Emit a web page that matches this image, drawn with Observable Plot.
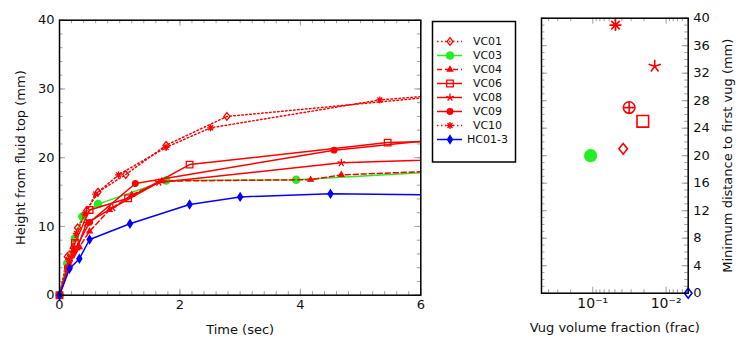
<!DOCTYPE html>
<html><head><meta charset="utf-8">
<script src="https://cdn.jsdelivr.net/npm/d3@7"></script>
<script src="https://cdn.jsdelivr.net/npm/@observablehq/plot@0.6"></script>
<style>
body{margin:0;background:#fff;}
#wrap{position:relative;width:747px;height:350px;overflow:hidden;background:#fff;}
#wrap svg{position:absolute;overflow:visible;}
</style></head><body><div id="wrap"></div>
<script>
// ---------------- data ----------------
const seriesNames = ["VC01","VC03","VC04","VC06","VC08","VC09","VC10","HC01-3"];

const t_VC01 = [0,0.13,0.3,0.45,0.64,1.1,1.77,2.78,7];
const h_VC01 = [0,5.6,9.8,12.3,15.0,17.55,21.8,26.0,29.5];
const t_VC03 = [0,0.128,0.255,0.38,0.64,1.77,3.93,7];
const h_VC03 = [0,4.65,8.3,11.45,13.25,16.7,16.8,18.3];
const t_VC04 = [0,0.17,0.33,0.5,0.83,1.2,1.7,4.17,4.68,7];
const h_VC04 = [0,4.3,7.0,9.3,12.4,14.6,16.6,16.8,17.5,18.3];
const t_VC06 = [0,0.255,0.5,1.14,2.16,5.45,7];
const h_VC06 = [0,7.6,12.4,14.1,19.0,22.2,22.5];
const t_VC08 = [0,0.15,0.3,0.45,0.885,1.65,4.68,7];
const h_VC08 = [0,4.2,7.0,10.5,12.7,16.4,19.25,19.9];
const t_VC09 = [0,0.13,0.25,0.5,1.26,4.56,7];
const h_VC09 = [0,4.0,6.5,10.6,16.25,21.1,23.3];
const t_VC10 = [0,0.15,0.28,0.42,0.6,0.98,1.77,2.51,5.32,7];
const h_VC10 = [0,5.2,9.0,11.8,14.7,17.5,21.5,24.35,28.4,29.6];
const t_HC013 = [0,0.166,0.33,0.5,1.17,2.16,3.0,4.5,7.5];
const h_HC013 = [0,3.85,5.3,8.1,10.4,13.2,14.3,14.75,14.5];

const vugNames = ["VC10","VC08","VC09","VC06","VC01","VC03","HC01-3"];
const vugFraction = [0.049,0.0143,0.0319,0.0208,0.0385,0.107,0.005];
const vugDistance = [39,33,27,25,21,20,0];

const timeTicks = [0,2,4,6];
const heightTicks = [0,10,20,30,40];
const distTicks = [0,4,8,12,16,20,24,28,32,36,40];
const fracTicks = [0.1,0.01];
const fracTickLabels = ["10\u207B\u00B9","10\u207B\u00B2"];

// ---------------- symbols ----------------
const rad = s => Math.sqrt(s/Math.PI);
const diamondSym = k => ({draw(c,s){const r=rad(s),w=r*k;c.moveTo(0,-r);c.lineTo(w,0);c.lineTo(0,r);c.lineTo(-w,0);c.closePath();}});
const squareSym = {draw(c,s){const r=rad(s);c.moveTo(-r,-r);c.lineTo(r,-r);c.lineTo(r,r);c.lineTo(-r,r);c.closePath();}};
const triSym = {draw(c,s){const r=rad(s);c.moveTo(0,-r);c.lineTo(r*0.866,r*0.5);c.lineTo(-r*0.866,r*0.5);c.closePath();}};
const starLines = {draw(c,s){const r=rad(s);for(let i=0;i<5;i++){const a=-Math.PI/2+i*2*Math.PI/5;c.moveTo(0,0);c.lineTo(r*Math.cos(a),r*Math.sin(a));}}};
const astLines = {draw(c,s){const r=rad(s);for(let i=0;i<4;i++){const a=i*Math.PI/4;c.moveTo(-r*Math.cos(a),-r*Math.sin(a));c.lineTo(r*Math.cos(a),r*Math.sin(a));}}};
const oplusSym = {draw(c,s){const r=rad(s);c.moveTo(r,0);c.arc(0,0,r,0,2*Math.PI);c.moveTo(-r,0);c.lineTo(r,0);c.moveTo(0,-r);c.lineTo(0,r);}};

const RED="#ff0000", GREEN="#22ee22", BLUE="#0000ff";
const style = {
  "VC01":  {t:t_VC01, h:h_VC01, color:RED, dash:"1.5,2.5", symbol:diamondSym(0.8), r:3.8, fill:"none"},
  "VC03":  {t:t_VC03, h:h_VC03, color:GREEN, dash:null, symbol:"circle", r:3.6, fill:GREEN},
  "VC04":  {t:t_VC04, h:h_VC04, color:RED, dash:"5,3", symbol:triSym, r:3, fill:RED},
  "VC06":  {t:t_VC06, h:h_VC06, color:RED, dash:null, symbol:squareSym, r:3.3, fill:"none"},
  "VC08":  {t:t_VC08, h:h_VC08, color:RED, dash:null, symbol:starLines, r:4, fill:"none"},
  "VC09":  {t:t_VC09, h:h_VC09, color:RED, dash:null, symbol:"circle", r:2.8, fill:RED},
  "VC10":  {t:t_VC10, h:h_VC10, color:RED, dash:"1.5,2.5", symbol:astLines, r:3.5, fill:"none"},
  "HC01-3":{t:t_HC013, h:h_HC013, color:BLUE, dash:null, symbol:diamondSym(0.62), r:4, fill:BLUE}
};
const vugStyle = {
  "VC10":  {symbol:astLines, r:6, fill:"none", stroke:RED},
  "VC08":  {symbol:starLines, r:6.5, fill:"none", stroke:RED},
  "VC09":  {symbol:oplusSym, r:5.8, fill:"none", stroke:RED},
  "VC06":  {symbol:squareSym, r:5.8, fill:"none", stroke:RED},
  "VC01":  {symbol:diamondSym(0.8), r:5.3, fill:"none", stroke:RED},
  "VC03":  {symbol:"circle", r:6.6, fill:GREEN, stroke:"none"},
  "HC01-3":{symbol:diamondSym(0.75), r:5, fill:"none", stroke:BLUE}
};

const FONT = "DejaVu Sans";
const TICK = "#a0a0a0";
const wrap = document.getElementById("wrap");

function frameTicks(values, axis, side, len, fw, fh) {
  const o = {stroke: TICK, strokeWidth: 1};
  if (axis === "x") {
    if (side === "bottom") return Plot.ruleX(values, {x: d=>d, insetTop: fh - len, ...o});
    return Plot.ruleX(values, {x: d=>d, insetBottom: fh - len, ...o});
  } else {
    if (side === "left") return Plot.ruleY(values, {y: d=>d, insetRight: fw - len, ...o});
    return Plot.ruleY(values, {y: d=>d, insetLeft: fw - len, ...o});
  }
}
const labelOpts = {textAnchor:"middle", lineAnchor:"middle", fontSize:13, fill:"#111"};

// ---------------- left chart ----------------
{
  const W=430, H=350, ml=59, mr=9.7, mt=19.7, mb=55.3;
  const fw=W-ml-mr, fh=H-mt-mb;
  const minorX = d3.range(0, 6.0001, 0.2).map(v=>+v.toFixed(1));
  const minorY = d3.range(0, 40.001, 2);
  const marks = [
    frameTicks(minorX,"x","bottom",3.5,fw,fh), frameTicks(minorX,"x","top",3.5,fw,fh),
    frameTicks(minorY,"y","left",3.5,fw,fh), frameTicks(minorY,"y","right",3.5,fw,fh),
    frameTicks(timeTicks,"x","bottom",6,fw,fh), frameTicks(timeTicks,"x","top",6,fw,fh),
    frameTicks(heightTicks,"y","left",6,fw,fh), frameTicks(heightTicks,"y","right",6,fw,fh),
  ];
  for (const name of seriesNames) {
    const s = style[name];
    const rows = s.t.map((t,i)=>({t, h:s.h[i]}));
    marks.push(Plot.line(rows, {x:"t", y:"h", stroke:s.color, strokeWidth:1.5, strokeDasharray:s.dash, clip:true}));
    marks.push(Plot.dot(rows, {x:"t", y:"h", filter: d=>d.t<=6, symbol:s.symbol, r:s.r, fill:s.fill, stroke:s.color, strokeWidth:1.3}));
  }
  marks.push(Plot.frame({stroke:"black", strokeWidth:1.5}));
  marks.push(Plot.axisX({ticks:timeTicks, anchor:"bottom", tickSize:0, tickPadding:5, label:null, fontSize:13, tickFormat:d=>String(d)}));
  marks.push(Plot.axisY({ticks:heightTicks, anchor:"left", tickSize:0, tickPadding:5, label:null, fontSize:13, tickFormat:d=>String(d)}));
  marks.push(Plot.text(["Time (sec)"], {text:d=>d, frameAnchor:"bottom", dy:34.5, ...labelOpts}));
  marks.push(Plot.text(["Height from fluid top (mm)"], {text:d=>d, frameAnchor:"left", dx:-39, rotate:-90, ...labelOpts}));
  const chart = Plot.plot({
    width:W, height:H, marginLeft:ml, marginRight:mr, marginTop:mt, marginBottom:mb,
    x:{domain:[0,6]}, y:{domain:[0,40]},
    style:{fontFamily:FONT, fontSize:"13px", background:"transparent", color:"#111"},
    marks
  });
  chart.style.left="0px"; chart.style.top="0px";
  wrap.appendChild(chart);
}

// ---------------- legend ----------------
{
  const W=83, H=140.5;
  const marks = [];
  for (const name of seriesNames) {
    const s = style[name];
    marks.push(Plot.ruleY([name], {y:d=>d, x1:5, x2:30, stroke:s.color, strokeWidth:1.5, strokeDasharray:s.dash}));
    marks.push(Plot.dot([name], {y:d=>d, x:17.5, symbol:s.symbol, r:s.r, fill:s.fill, stroke:s.color, strokeWidth:1.3}));
  }
  marks.push(Plot.text(seriesNames, {y:d=>d, x:55, text:d=>d, fontSize:11, fill:"#111", textAnchor:"middle"}));
  marks.push(Plot.frame({stroke:"black", strokeWidth:1.5}));
  const leg = Plot.plot({
    width:W, height:H, marginLeft:0, marginRight:0, marginTop:0, marginBottom:0,
    x:{domain:[0,W], range:[0,W], axis:null},
    y:{type:"point", domain:seriesNames, range:[11.6,127.2], axis:null},
    style:{fontFamily:FONT, fontSize:"11px", background:"transparent"},
    marks
  });
  leg.style.left="432px"; leg.style.top="20.7px";
  wrap.appendChild(leg);
}

// ---------------- right chart ----------------
{
  const W=227, H=350, ml=21, mr=59.3, mt=17.7, mb=57.3;
  const fw=W-ml-mr, fh=H-mt-mb;
  const minorX = [0.5,0.4,0.3,0.2,0.09,0.08,0.07,0.06,0.05,0.04,0.03,0.02,0.009,0.008,0.007,0.006,0.005];
  const minorY = d3.range(0, 40.001, 1);
  const marks = [
    frameTicks(minorX,"x","bottom",3.5,fw,fh), frameTicks(minorX,"x","top",3.5,fw,fh),
    frameTicks(minorY,"y","left",3.5,fw,fh), frameTicks(minorY,"y","right",3.5,fw,fh),
    frameTicks(fracTicks,"x","bottom",6,fw,fh), frameTicks(fracTicks,"x","top",6,fw,fh),
    frameTicks(distTicks,"y","left",6,fw,fh), frameTicks(distTicks,"y","right",6,fw,fh),
  ];
  vugNames.forEach((name,i)=>{
    const s = vugStyle[name];
    marks.push(Plot.dot([{f:vugFraction[i], d:vugDistance[i]}], {x:"f", y:"d", symbol:s.symbol, r:s.r, fill:s.fill, stroke:s.stroke, strokeWidth:1.6}));
  });
  marks.push(Plot.frame({stroke:"black", strokeWidth:1.5}));
  marks.push(Plot.axisX({ticks:fracTicks, anchor:"bottom", tickSize:0, tickPadding:5, label:null, fontSize:14, tickFormat:v=>fracTickLabels[fracTicks.indexOf(v)]}));
  marks.push(Plot.axisY({ticks:distTicks, anchor:"right", tickSize:0, tickPadding:5, label:null, fontSize:13, tickFormat:d=>String(d)}));
  marks.push(Plot.text(["Vug volume fraction (frac)"], {text:d=>d, frameAnchor:"bottom", dy:34.5, ...labelOpts}));
  marks.push(Plot.text(["Minimum distance to first vug (mm)"], {text:d=>d, frameAnchor:"right", dx:40, rotate:-90, ...labelOpts}));
  const chart = Plot.plot({
    width:W, height:H, marginLeft:ml, marginRight:mr, marginTop:mt, marginBottom:mb,
    x:{type:"log", domain:[0.5,0.005]}, y:{domain:[0,40]},
    style:{fontFamily:FONT, fontSize:"13px", background:"transparent", color:"#111"},
    marks
  });
  chart.style.left="520px"; chart.style.top="0px";
  wrap.appendChild(chart);
}
</script></body></html>
